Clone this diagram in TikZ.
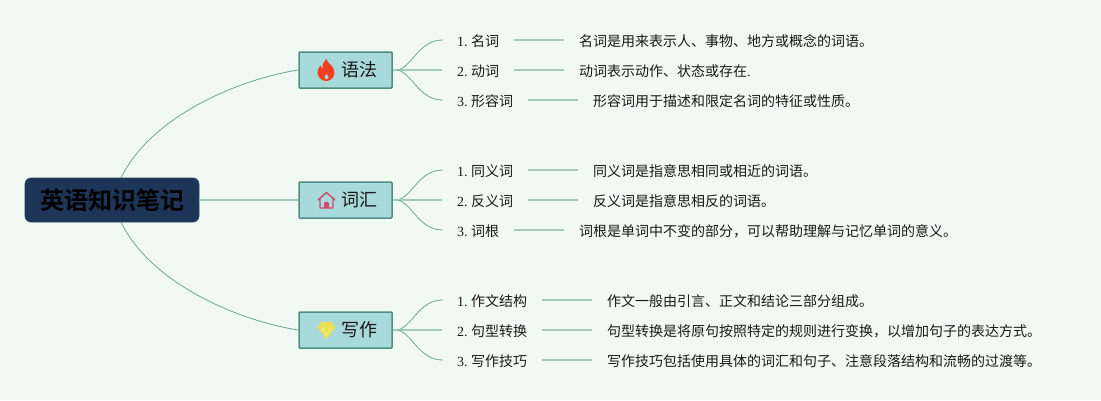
\documentclass[tikz,border=0pt]{standalone}
\usepackage{fontspec}
\setmainfont{Liberation Serif}
\newfontfamily\cjk{Noto Sans CJK SC}
\newfontfamily\cjkb{Noto Sans CJK SC Bold}
\usetikzlibrary{calc}
\definecolor{bgc}{HTML}{F0FAF3}
\definecolor{boxfill}{HTML}{A8DADC}
\definecolor{boxline}{HTML}{4F8F7F}
\definecolor{rootfill}{HTML}{1D3557}
\definecolor{linkc}{HTML}{6FA58E}
\definecolor{thickc}{HTML}{A3CBB6}
\definecolor{flame}{HTML}{F0401E}
\definecolor{homec}{HTML}{D24A6A}
\definecolor{gemc}{HTML}{EDE04E}
\tikzset{
 rootbox/.style={draw=rootfill!85!boxline,line width=.6pt,fill=rootfill,rounded corners=6pt,minimum width=174pt,minimum height=44pt,inner sep=0pt,font=\cjkb\fontsize{24}{24}\selectfont,text=black},
 topic/.style={draw=boxline,line width=1.5pt,fill=boxfill,rounded corners=1pt,minimum width=93pt,minimum height=36pt,inner sep=0pt,font=\cjk\fontsize{18}{18}\selectfont,text=black!90},
 leaf/.style={anchor=west,inner sep=0pt,text height=12pt,text depth=0pt,font=\fontsize{14}{14}\selectfont,text=black!90},
 thin link/.style={draw=linkc,line width=.8pt},
 thick link/.style={draw=thickc,line width=1.5pt},
}
\newcommand{\zh}[1]{{\cjk #1}}
\newcommand{\nm}[1]{#1.\hspace{3.4pt}}
\newcommand{\leafcurve}[2]{%
 \draw[thin link] ($(#1.east)+(5,0)$) .. controls ($(#1.east)+(20,{0.13*(#2)})$) and ($(#1.east)+(26,#2)$) .. ($(#1.east)+(50,#2)$);}
\begin{document}
\begin{tikzpicture}[x=1pt,y=-1pt]
\useasboundingbox (0,0) rectangle (1101,400);
\fill[bgc] (0,0) rectangle (1101,400);

\node[rootbox] (root) at (112,200) {\hspace*{1.5pt}\raisebox{-.6pt}{英语知识笔记}};
\coordinate (rootup) at (121,178);
\coordinate (rootdn) at (121,222);

\node[topic] (t1) at (345.5,70) {\hspace*{28pt}\raisebox{-1pt}{语法}};
\node[topic] (t2) at (345.5,200) {\hspace*{28pt}\raisebox{-1pt}{词汇}};
\node[topic] (t3) at (345.5,330) {\hspace*{28pt}\raisebox{-1pt}{写作}};

\draw[thin link] (rootup) .. controls (150,118) and (235,80) .. (t1.west);
\draw[thick link,line width=1.2pt] (root.east) -- (t2.west);
\draw[thin link] (rootdn) .. controls (150,282) and (235,320) .. (t3.west);

% icons
\fill[flame] (326.5,59) .. controls (327.5,63) and (331.5,64.5) .. (333.5,68.5) .. controls (336,73.5) and (333.5,80.5) .. (326.5,81) .. controls (319.5,80.5) and (316,75) .. (318,69.5) .. controls (318.5,68) and (320,66.5) .. (320.5,65.5) .. controls (321,67) and (321.5,68) .. (322.5,68.5) .. controls (322,65) and (324,61) .. (326.5,59) -- cycle;
\fill[boxfill] (326.5,74) .. controls (327.5,75.5) and (329,76.5) .. (328.5,78) .. controls (328,79.5) and (325,79.5) .. (324.5,78) .. controls (324,76.5) and (325.5,75.5) .. (326.5,74) -- cycle;
\draw[homec,line width=1.4pt,line join=round] (318,200) -- (326.5,192.5) -- (335,200) (320,198.5) -- (320,208) -- (333,208) -- (333,198.5);
\fill[homec] (324,208) -- (324,204) arc[start angle=180,end angle=360,x radius=2.5,y radius=2.5] -- (329,208) -- cycle;
\fill[gemc] (321.5,322) -- (331.5,322) -- (335.5,327) -- (326.5,339) -- (317.5,327) -- cycle;
\draw[white!55!gemc,line width=.6pt] (322,327) -- (326.5,335) -- (331,327);

% group 1
\node[leaf] (a1) at (457,40) {\nm{1}\zh{名词}};
\node[leaf] (a2) at (457,70) {\nm{2}\zh{动词}};
\node[leaf] (a3) at (457,100) {\nm{3}\zh{形容词}};
\node[leaf] (ad1) at (579,40) {\zh{名词是用来表示人、事物、地方或概念的词语。}};
\node[leaf] (ad2) at (579,70) {\zh{动词表示动作、状态或存在}.};
\node[leaf] (ad3) at (593,100) {\zh{形容词用于描述和限定名词的特征或性质。}};
% group 2
\node[leaf] (b1) at (457,170) {\nm{1}\zh{同义词}};
\node[leaf] (b2) at (457,200) {\nm{2}\zh{反义词}};
\node[leaf] (b3) at (457,230) {\nm{3}\zh{词根}};
\node[leaf] (bd1) at (593,170) {\zh{同义词是指意思相同或相近的词语。}};
\node[leaf] (bd2) at (593,200) {\zh{反义词是指意思相反的词语。}};
\node[leaf] (bd3) at (579,230) {\zh{词根是单词中不变的部分，可以帮助理解与记忆单词的意义。}};
% group 3
\node[leaf] (c1) at (457,300) {\nm{1}\zh{作文结构}};
\node[leaf] (c2) at (457,330) {\nm{2}\zh{句型转换}};
\node[leaf] (c3) at (457,360) {\nm{3}\zh{写作技巧}};
\node[leaf] (cd1) at (607,300) {\zh{作文一般由引言、正文和结论三部分组成。}};
\node[leaf] (cd2) at (607,330) {\zh{句型转换是将原句按照特定的规则进行变换，以增加句子的表达方式。}};
\node[leaf] (cd3) at (607,360) {\zh{写作技巧包括使用具体的词汇和句子、注意段落结构和流畅的过渡等。}};

\foreach \p/\d in {a1/ad1,a2/ad2,a3/ad3,b1/bd1,b2/bd2,b3/bd3,c1/cd1,c2/cd2,c3/cd3}
  \draw[thick link] ($(\p.east)+(15,0)$) -- ($(\d.west)+(-15,0)$);

\foreach \t/\u/\m/\l in {t1/a1/a2/a3,t2/b1/b2/b3,t3/c1/c2/c3}{
  \draw[thick link] (\t.east) -- ($(\t.east)+(8,0)$);
  \leafcurve{\t}{-30}
  \draw[thick link] (\t.east) -- ($(\m.west)+(-15,0)$);
  \leafcurve{\t}{30}
}
\end{tikzpicture}
\end{document}
